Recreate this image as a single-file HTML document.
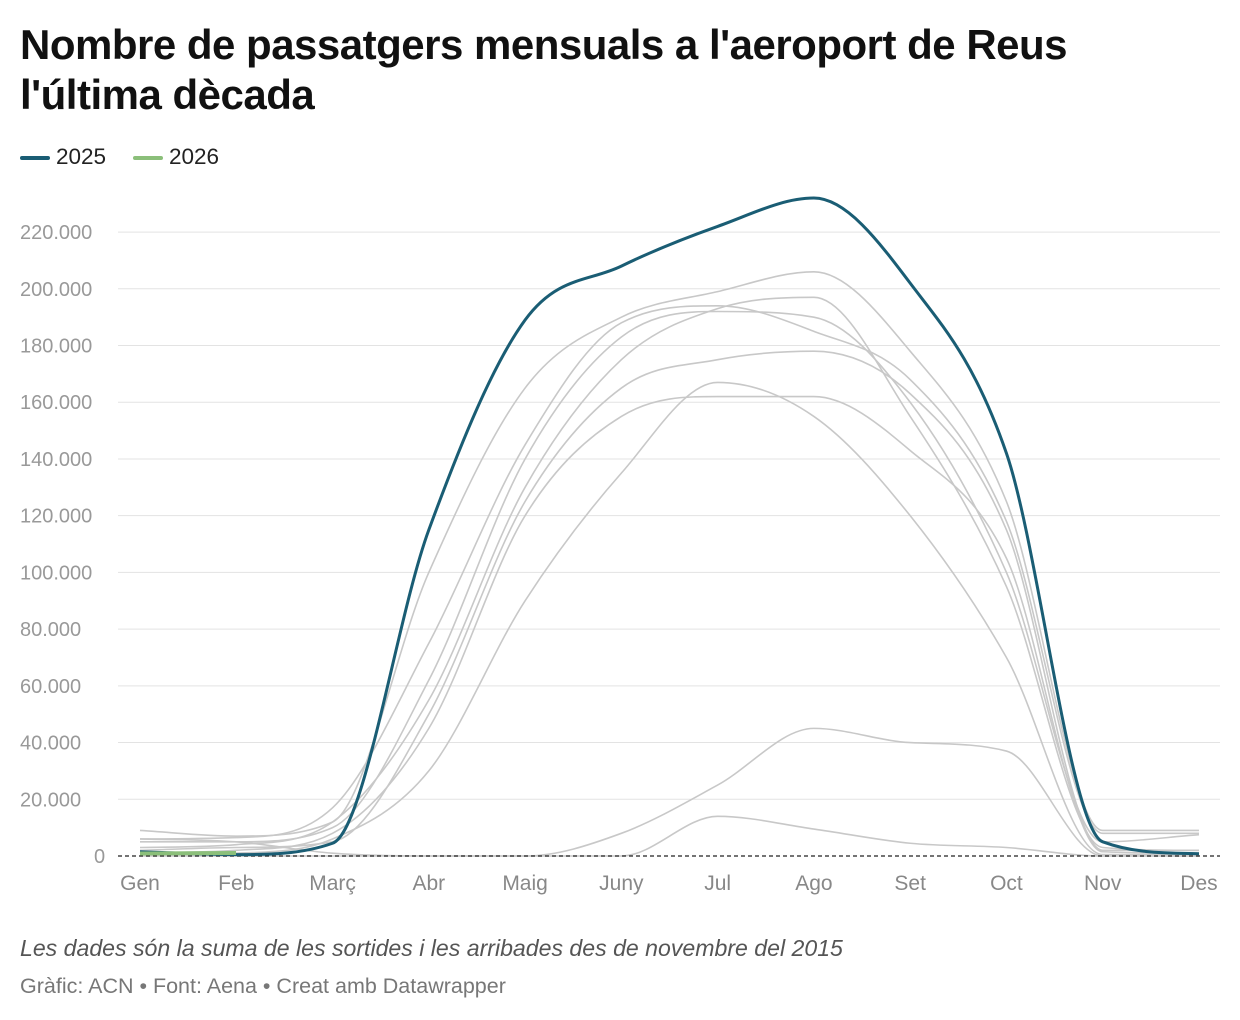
<!DOCTYPE html>
<html><head><meta charset="utf-8"><style>
body{margin:0;background:#fff;width:1240px;height:1020px;overflow:hidden;font-family:"Liberation Sans",sans-serif}
h1{position:absolute;left:20px;top:20px;margin:0;font-size:42px;line-height:50px;font-weight:bold;color:#111;letter-spacing:-0.5px}
.leg{position:absolute;top:144px;font-size:22.5px;color:#222}
.leg span{display:inline-block;width:30px;height:4px;border-radius:2px;vertical-align:middle;margin-right:6px}
.note{position:absolute;left:20px;top:935px;font-size:23.1px;font-style:italic;color:#555}
.src{position:absolute;left:20px;top:974px;font-size:21.5px;color:#777}
</style></head><body>
<h1>Nombre de passatgers mensuals a l'aeroport de Reus<br>l'última dècada</h1>
<div class="leg" style="left:20px"><span style="background:#1a5d74"></span>2025</div>
<div class="leg" style="left:133px"><span style="background:#8bbf7a"></span>2026</div>
<svg id="c" width="1240" height="1020" style="position:absolute;left:0;top:0"></svg>
<div class="note">Les dades són la suma de les sortides i les arribades des de novembre del 2015</div>
<div class="src">Gràfic: ACN • Font: Aena • Creat amb Datawrapper</div>
<script>
var s=document.getElementById('c'),h='';
function Y(v){return 856-v*0.002836}
function X(i){return 140+i*96.27}
for(var v=20000;v<=220000;v+=20000){var y=Y(v);h+='<line x1="118" x2="1220" y1="'+y+'" y2="'+y+'" stroke="#e3e3e3" stroke-width="1"/>';
h+='<text x="20" y="'+(y+7)+'" font-size="20" fill="#999">'+(v/1000)+'.000</text>';}
h+='<text x="94" y="863" font-size="20" fill="#999">0</text>';
var m=['Gen','Feb','Març','Abr','Maig','Juny','Jul','Ago','Set','Oct','Nov','Des'];
m.forEach(function(t,i){h+='<text x="'+X(i)+'" y="890" font-size="21" fill="#888" text-anchor="middle">'+t+'</text>'});
function path(d){var n=d.length,p=d.map(function(v,i){return[X(i),Y(v)]});var sl=[],t=[],i;
for(i=0;i<n-1;i++){sl.push((p[i+1][1]-p[i][1])/(p[i+1][0]-p[i][0]))}
t[0]=sl[0];t[n-1]=sl[n-2];for(i=1;i<n-1;i++){t[i]=sl[i-1]*sl[i]<=0?0:(sl[i-1]+sl[i])/2;}
for(i=0;i<n-1;i++){if(sl[i]==0){t[i]=0;t[i+1]=0;continue;}var a=t[i]/sl[i],b=t[i+1]/sl[i],q=a*a+b*b;if(q>9){var k=3/Math.sqrt(q);t[i]=k*a*sl[i];t[i+1]=k*b*sl[i];}}
var r='M'+p[0][0]+','+p[0][1];for(i=0;i<n-1;i++){var w=(p[i+1][0]-p[i][0])/3;
r+='C'+(p[i][0]+w)+','+(p[i][1]+t[i]*w)+' '+(p[i+1][0]-w)+','+(p[i+1][1]-t[i+1]*w)+' '+p[i+1][0]+','+p[i+1][1];}return r}
var g=[[9000,7000,12000,100000,165000,190000,199000,206000,178000,125000,9000,9000],
[6000,6500,17000,75000,145000,188000,194000,185000,168000,118000,8000,8000],
[5000,5000,10000,62000,140000,183000,192000,190000,160000,100000,5000,7500],
[3000,4000,12000,55000,130000,175000,193000,197000,155000,95000,3000,2000],
[2000,3000,5000,50000,125000,165000,175000,178000,163000,115000,2000,2000],
[1000,2000,8000,45000,120000,155000,162000,162000,143000,105000,1500,1000],
[500,1000,6000,30000,90000,135000,167000,155000,120000,70000,500,500],
[6000,5000,1000,0,0,0,14000,9500,4500,3000,0,0],
[0,0,0,0,0,8000,25000,45000,40000,37000,0,0]];
g.forEach(function(d){h+='<path d="'+path(d)+'" fill="none" stroke="#c8c8c8" stroke-width="1.6"/>'});
h+='<line x1="118" x2="1220" y1="856" y2="856" stroke="#222" stroke-width="1.2" stroke-dasharray="4,3"/>';
h+='<path d="'+path([1500,500,4500,115000,189000,208000,222000,232000,202000,142000,5000,800])+'" fill="none" stroke="#1a5d74" stroke-width="3"/>';
h+='<path d="M140,853.5 L236,853" fill="none" stroke="#8bbf7a" stroke-width="4"/>';
s.innerHTML=h;
</script>
</body></html>
